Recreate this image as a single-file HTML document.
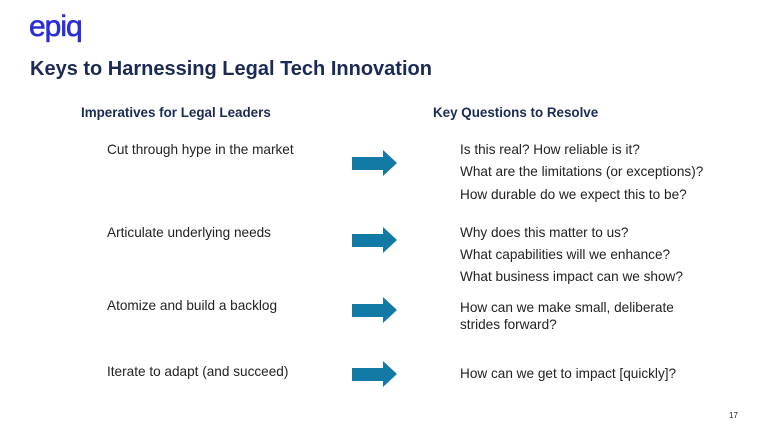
<!DOCTYPE html>
<html><head><style>
body{margin:0;width:768px;height:432px;background:#fff;position:relative;font-family:"Liberation Sans",sans-serif;overflow:hidden}
.t{position:absolute;white-space:nowrap;color:#222;font-size:13.6px}
.h{font-weight:bold;color:#1b2a55;font-size:13.4px}
svg{position:absolute}
</style></head><body>
<div class="t" style="left:29px;top:10px;font-size:30px;color:#2b2fd6;letter-spacing:-1px;-webkit-text-stroke:0.6px #2b2fd6">epiq</div>
<div class="t" style="left:30px;top:58px;font-size:20px;font-weight:bold;color:#1b2a55">Keys to Harnessing Legal Tech Innovation</div>
<div class="t h" style="left:81px;top:105px">Imperatives for Legal Leaders</div>
<div class="t h" style="left:433px;top:105px">Key Questions to Resolve</div>
<div class="t" style="left:107px;top:142px">Cut through hype in the market</div>
<div class="t" style="left:107px;top:225px">Articulate underlying needs</div>
<div class="t" style="left:107px;top:298px">Atomize and build a backlog</div>
<div class="t" style="left:107px;top:364px">Iterate to adapt (and succeed)</div>
<div class="t" style="left:460px;top:142px">Is this real? How reliable is it?</div>
<div class="t" style="left:460px;top:164px">What are the limitations (or exceptions)?</div>
<div class="t" style="left:460px;top:187px">How durable do we expect this to be?</div>
<div class="t" style="left:460px;top:225px">Why does this matter to us?</div>
<div class="t" style="left:460px;top:247px">What capabilities will we enhance?</div>
<div class="t" style="left:460px;top:269px">What business impact can we show?</div>
<div class="t" style="left:460px;top:300px">How can we make small, deliberate</div>
<div class="t" style="left:460px;top:317px">strides forward?</div>
<div class="t" style="left:460px;top:366px">How can we get to impact [quickly]?</div>
<div class="t" style="left:729px;top:411px;font-size:8px">17</div>
<svg width="768" height="432" style="left:0;top:0">
<g fill="#137aa6">
<polygon points="352,157 383,157 383,150 397,163 383,176 383,170 352,170"/>
<polygon points="352,234 383,234 383,227 397,240 383,253 383,247 352,247"/>
<polygon points="352,304 383,304 383,297 397,310 383,323 383,317 352,317"/>
<polygon points="352,368 383,368 383,361 397,374 383,387 383,381 352,381"/>
</g></svg>
</body></html>
